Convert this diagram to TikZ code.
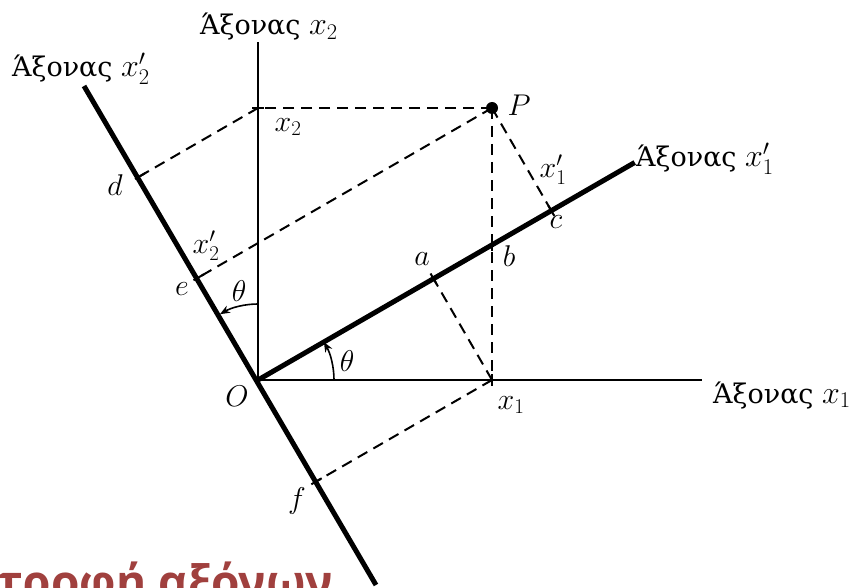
\RequirePackage{fix-cm}
\documentclass[tikz,border=0pt]{standalone}
\usepackage{fontspec}
\setmainfont{DejaVu Serif}
\newfontfamily\titlefont{Open Sans}[BoldFont={Open Sans Bold}]
\usetikzlibrary{arrows.meta,calc}
\definecolor{titlered}{RGB}{160,64,62}
\newcommand{\axmath}[1]{{\fontsize{32}{34}\selectfont$#1$}}
\begin{document}
\begin{tikzpicture}[x=1pt,y=-1pt,
  thinaxis/.style={line width=2pt},
  thickaxis/.style={line width=5pt},
  dline/.style={line width=2pt, dash pattern=on 11pt off 7pt},
  tickmark/.style={line width=2pt},
  lbl/.style={font=\fontsize{30}{34}\selectfont, inner sep=0pt},
  axlbl/.style={font=\fontsize{27}{31}\selectfont, inner sep=0pt, anchor=base west},
  arcarrow/.style={line width=1.6pt, -{Stealth[length=10pt,width=8pt]}}]
\useasboundingbox (0,0) rectangle (853,588);
\clip (0,0) rectangle (853,588);
% geometry
\coordinate (O) at (258,380);
\coordinate (X1end) at (702,380);
\coordinate (X2end) at (258,42);
\coordinate (X1pend) at (634.7,162.5);
\coordinate (X2ptop) at (84,86);
\coordinate (X2pbot) at (376,585);
\coordinate (P) at (492,108);
\coordinate (x2pt) at (258,108);
\coordinate (x1pt) at (492,380);
\coordinate (a) at (433.5,278.7);
\coordinate (b) at (492,244.9);
\coordinate (c) at (551.3,210.7);
\coordinate (d) at (140.2,176);
\coordinate (e) at (198.7,277.3);
\coordinate (f) at (316.5,481.3);
% axes
\draw[thinaxis] (O) -- (X1end);
\draw[thinaxis] (O) -- (X2end);
\draw[thickaxis] (O) -- (X1pend);
\draw[thickaxis] (X2ptop) -- (X2pbot);
% dashed projections
\draw[dline] (P) -- (x2pt);
\draw[dline] (x2pt) -- (d);
\draw[dline] (P) -- (e);
\draw[dline] (P) -- (x1pt);
\draw[dline] (P) -- (c);
\draw[dline] (x1pt) -- (a);
\draw[dline] (x1pt) -- (f);
% ticks where projections meet axes
\draw[tickmark] ($(x2pt)!6pt!(P)$) -- ($(x2pt)!-6pt!(P)$);
\draw[tickmark] ($(d)!6pt!(x2pt)$) -- ($(d)!-6pt!(x2pt)$);
\draw[tickmark] ($(e)!6pt!(P)$) -- ($(e)!-6pt!(P)$);
\draw[tickmark] ($(c)!6pt!(P)$) -- ($(c)!-6pt!(P)$);
\draw[tickmark] ($(b)!6pt!(P)$) -- ($(b)!-6pt!(P)$);
\draw[tickmark] ($(a)!6pt!(x1pt)$) -- ($(a)!-6pt!(x1pt)$);
\draw[tickmark] ($(f)!6pt!(x1pt)$) -- ($(f)!-6pt!(x1pt)$);
\draw[tickmark] ($(x1pt)!6pt!(P)$) -- ($(x1pt)!-6pt!(P)$);
% point P
\node[circle, fill, inner sep=0pt, minimum size=12pt] (Pdot) at (P) {};
% angle arcs
\draw[arcarrow] ([xshift=76pt]O) arc[start angle=0, end angle=30, radius=76pt];
\draw[arcarrow] ([yshift=76pt]O) arc[start angle=90, end angle=120, radius=76pt];
% axis labels
\node[axlbl] (lx2) at (200,35) {Άξονας \axmath{x_2}};
\node[axlbl] (lx2p) at (12,77) {Άξονας \axmath{x'_2}};
\node[axlbl] (lx1p) at (636,167) {Άξονας \axmath{x'_1}};
\node[axlbl] (lx1) at (713,403) {Άξονας \axmath{x_1}};
% point labels
\node[lbl] (tP) at (519,105) {$P$};
\node[lbl] (tx2) at (288,127) {$x_2$};
\node[lbl] (td) at (115,185) {$d$};
\node[lbl] (tx2p) at (206,246) {$x'_2$};
\node[lbl] (te) at (182,289) {$e$};
\node[lbl] (tx1p) at (553,170) {$x'_1$};
\node[lbl] (tc) at (556,222) {$c$};
\node[lbl] (tb) at (509,256) {$b$};
\node[lbl] (ta) at (422,259) {$a$};
\node[lbl] (tth1) at (239,291) {$\theta$};
\node[lbl] (tth2) at (347,361) {$\theta$};
\node[lbl] (tO) at (237,396) {$O$};
\node[lbl] (tx1) at (511,405) {$x_1$};
\node[lbl] (tf) at (297,501) {$f$};
% title (cut at the bottom edge, as in the reference)
\node[font=\titlefont\bfseries\fontsize{46}{52}\selectfont, text=titlered, anchor=base west, inner sep=0pt] (title) at (-2,598) {τροφή αξόνων};
\end{tikzpicture}
\end{document}
